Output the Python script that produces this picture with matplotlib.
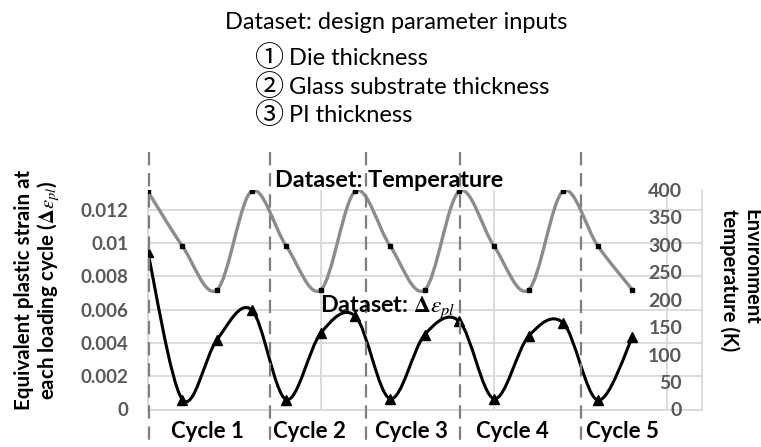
import numpy as np
import matplotlib
matplotlib.use('Agg')
import matplotlib.pyplot as plt
import matplotlib.transforms as mtransforms
from matplotlib.path import Path
from matplotlib.patches import PathPatch

plt.rcParams['font.family'] = ['Lato', 'Noto Sans CJK JP', 'DejaVu Sans']
plt.rcParams['mathtext.fontset'] = 'stix'

# --- data ---
step_index = list(range(15))
temperature_k = [398, 298, 218, 398, 298, 218, 398, 298, 218,
                 398, 298, 218, 398, 298, 218]
plastic_strain = [0.0095, 0.0006, 0.0042, 0.0060, 0.0006,
                  0.0046, 0.0056, 0.00065, 0.0045, 0.0053,
                  0.00065, 0.0044, 0.0052, 0.00056, 0.00434]

cycle_labels = ['Cycle 1', 'Cycle 2', 'Cycle 3', 'Cycle 4', 'Cycle 5']
cycle_label_x = [1.73, 4.66, 7.63, 10.52, 13.70]
cycle_bounds = [0.05, 3.52, 6.31, 9.03, 12.52]

strain_ticks = [0, 0.002, 0.004, 0.006, 0.008, 0.01, 0.012]
strain_tick_labels = ['0', '0.002', '0.004', '0.006', '0.008', '0.01', '0.012']
temp_ticks = [0, 50, 100, 150, 200, 250, 300, 350, 400]

input_marks = ['\u2460', '\u2461', '\u2462']
design_inputs = ['Die thickness', 'Glass substrate thickness', 'PI thickness']

W, H = 761, 447


def fx(px):
    return px / W


def fy(py):
    return 1 - py / H


def smooth_path(x, y):
    # smoothed line like a spreadsheet chart: cubic bezier through the points
    x = np.asarray(x, float)
    y = np.asarray(y, float)
    px = np.concatenate([[x[0]], x, [x[-1]]])
    py = np.concatenate([[y[0]], y, [y[-1]]])
    verts = [(x[0], y[0])]
    codes = [Path.MOVETO]
    for i in range(len(x) - 1):
        c1 = (x[i] + (px[i + 2] - px[i]) / 6, y[i] + (py[i + 2] - py[i]) / 6)
        c2 = (x[i + 1] - (px[i + 3] - px[i + 1]) / 6,
              y[i + 1] - (py[i + 3] - py[i + 1]) / 6)
        verts += [c1, c2, (x[i + 1], y[i + 1])]
        codes += [Path.CURVE4] * 3
    return Path(verts, codes)


fig = plt.figure(figsize=(W / 100, H / 100), dpi=100)
ax = fig.add_axes([fx(147.7), fy(409.5), fx(701.7) - fx(147.7), fy(190) - fy(409.5)])
ax2 = ax.twinx()

grid_c = '#d9d9d9'
tick_c = '#595959'

# strain (left axis)
ax.add_patch(PathPatch(smooth_path(step_index, plastic_strain), fill=False,
                       edgecolor='black', lw=2.2, zorder=3))
ax.plot(step_index, plastic_strain, ls='none', marker='^', ms=6.5,
        color='black', zorder=4)
ax.set_xlim(0, 16)
ax.set_ylim(0, 0.0132)
ax.set_xticks([0, 5, 10, 15])
ax.set_yticks(strain_ticks)
ax.set_yticklabels(strain_tick_labels)
ax.grid(True, color=grid_c, lw=1.3)
ax.set_axisbelow(True)
ax.tick_params(axis='x', length=0, labelbottom=False)
ax.tick_params(axis='y', length=0, pad=14, labelcolor=tick_c, labelsize=13.5)
for lbl in ax.get_yticklabels():
    lbl.set_fontweight('bold')
ax.spines['top'].set_visible(False)
ax.spines['right'].set_visible(False)
for s in ['left', 'bottom']:
    ax.spines[s].set_color(grid_c)
    ax.spines[s].set_linewidth(1.3)

# temperature (right axis)
ax2.add_patch(PathPatch(smooth_path(step_index, temperature_k), fill=False,
                        edgecolor='#8c8c8c', lw=2.4, zorder=3))
ax2.plot(step_index, temperature_k, ls='none', marker='s', ms=3.5,
         color='black', zorder=4)
ax2.set_ylim(0, 400)
ax2.set_yticks(temp_ticks)
ax2.tick_params(axis='y', length=0, pad=-14, labelcolor=tick_c, labelsize=14)
for lbl in ax2.get_yticklabels():
    lbl.set_horizontalalignment('right')
    lbl.set_fontweight('bold')
for s in ['top', 'left', 'bottom']:
    ax2.spines[s].set_visible(False)
ax2.spines['right'].set_color(grid_c)
ax2.spines['right'].set_linewidth(1.3)

# cycle separators and labels
blend = mtransforms.blended_transform_factory(ax.transData, fig.transFigure)
for xb in cycle_bounds:
    ax2.plot([xb, xb], [fy(152), 0], transform=blend, clip_on=False,
             color='#7f7f7f', lw=1.6, dashes=(6, 3.5), zorder=5)
for xl, lab in zip(cycle_label_x, cycle_labels):
    ax.text(xl, fy(437.5), lab, transform=blend, ha='center', va='baseline',
            fontsize=16, fontweight='bold')

# axis titles
fig.text(fx(38), fy(290), 'Equivalent plastic strain at\neach loading cycle ($\\mathbf{\\Delta}\\epsilon_{pl}$)',
         rotation=90, ha='center', va='center', ma='center',
         fontsize=14.8, fontweight='bold', linespacing=1.1)
fig.text(fx(740), fy(280), 'Environment\ntemperature (K)', rotation=-90,
         ha='center', va='center', ma='left', fontsize=14.5, fontweight='bold',
         linespacing=1.1)

# dataset notes
fig.text(fx(225), fy(29), 'Dataset: design parameter inputs', fontsize=17,
         va='baseline')
for yb, mark, item in zip([65, 93.5, 122], input_marks, design_inputs):
    fig.text(fx(255), fy(yb + 2), mark, fontsize=21, va='baseline',
             family=['Noto Sans CJK JP'])
    fig.text(fx(289), fy(yb), item, fontsize=17, va='baseline')
fig.text(fx(275), fy(186.7), 'Dataset: Temperature', fontsize=16.8,
         fontweight='bold', va='baseline')
fig.text(fx(320), fy(312), 'Dataset: $\\mathbf{\\Delta}\\epsilon_{pl}$', fontsize=16.8,
         fontweight='bold', va='baseline')

fig.savefig('out.png', dpi=100)
